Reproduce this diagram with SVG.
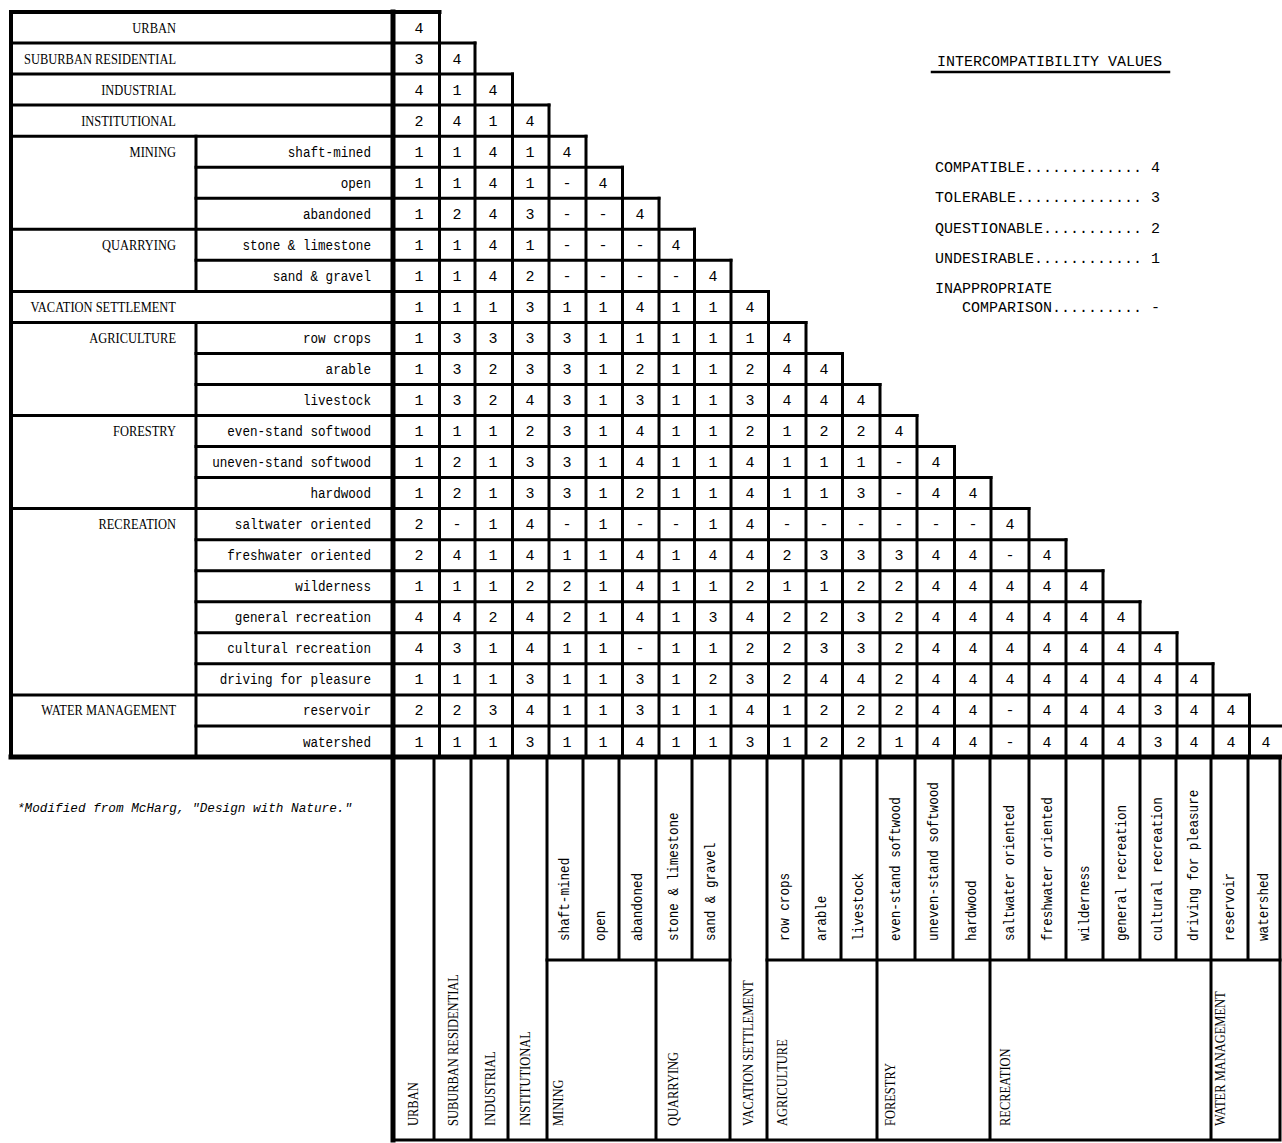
<svg xmlns="http://www.w3.org/2000/svg" width="1282" height="1143" viewBox="0 0 1282 1143">
<style>
.ln{stroke:#000;stroke-width:3;fill:none;stroke-linecap:square}
.tk{stroke:#000;stroke-width:5;fill:none;stroke-linecap:square}
.v{font-family:"Liberation Mono","Courier New",monospace;font-size:15px;text-anchor:middle;fill:#000}
.g{font-family:"Liberation Serif","Times New Roman",serif;font-size:14.5px;fill:#000}
.s{font-family:"Liberation Mono","Courier New",monospace;font-size:14.5px;fill:#000}
.e{text-anchor:end}
.lg{font-family:"Liberation Mono","Courier New",monospace;font-size:15px;fill:#000}
.fn{font-family:"Liberation Mono","Courier New",monospace;font-size:12.7px;font-style:italic;fill:#000}
</style>
<rect width="1282" height="1143" fill="#fff"/>
<g id="connectors">
<path class="ln" d="M11 43H475M11 74.1H512.5M11 105.1H549M11 136.2H586M196 167.2H622.5M196 198.2H659M11 229.3H694.5M196 260.3H731M11 291.4H768.5M11 322.4H806M196 353.4H842.5M196 384.5H880M11 415.5H917M196 446.6H954.5M196 477.6H991M11 508.6H1029M196 539.7H1066M196 570.7H1103M196 601.8H1140M196 632.8H1177M196 663.8H1213M11 694.9H1249.5M196 725.9H1284"/>
<path class="ln" d="M196 136.2V291.4M196 322.4V757M439.5 12V757M475 43V757M512.5 74.1V757M549 105.1V757M586 136.2V757M622.5 167.2V757M659 198.2V757M694.5 229.3V757M731 260.3V757M768.5 291.4V757M806 322.4V757M842.5 353.4V757M880 384.5V757M917 415.5V757M954.5 446.6V757M991 477.6V757M1029 508.6V757M1066 539.7V757M1103 570.7V757M1140 601.8V757M1177 632.8V757M1213 663.8V757M1249.5 694.9V757"/>
<path class="ln" style="stroke-width:4" d="M11 12H439.5M11 12V757"/>
<path class="tk" d="M393 12V1140M11 757H1284"/>
<path class="ln" d="M434 757V1140M471 757V1140M508 757V1140M547 757V1140M656 757V1140M730 757V1140M767 757V1140M877 757V1140M990 757V1140M1211 757V1140M1280 757V1140M393 1140H1280"/>
<path class="ln" d="M583 757V960M619 757V960M692 757V960M803 757V960M841 757V960M915 757V960M953 757V960M1029 757V960M1066 757V960M1103 757V960M1140 757V960M1176 757V960M1248 757V960M547 960H730M767 960H1280"/>
</g>
<g id="row-labels">
<text class="g e" transform="translate(176 32.5) scale(0.86 1)">URBAN</text>
<text class="g e" transform="translate(176 63.6) scale(0.86 1)">SUBURBAN RESIDENTIAL</text>
<text class="g e" transform="translate(176 94.6) scale(0.86 1)">INDUSTRIAL</text>
<text class="g e" transform="translate(176 125.6) scale(0.86 1)">INSTITUTIONAL</text>
<text class="g e" transform="translate(176 156.7) scale(0.86 1)">MINING</text>
<text class="g e" transform="translate(176 249.8) scale(0.86 1)">QUARRYING</text>
<text class="g e" transform="translate(176 311.9) scale(0.86 1)">VACATION SETTLEMENT</text>
<text class="g e" transform="translate(176 342.9) scale(0.86 1)">AGRICULTURE</text>
<text class="g e" transform="translate(176 436) scale(0.86 1)">FORESTRY</text>
<text class="g e" transform="translate(176 529.2) scale(0.86 1)">RECREATION</text>
<text class="g e" transform="translate(176 715.4) scale(0.86 1)">WATER MANAGEMENT</text>
<text class="s e" transform="translate(371 156.7) scale(0.87 1)">shaft-mined</text>
<text class="s e" transform="translate(371 187.7) scale(0.87 1)">open</text>
<text class="s e" transform="translate(371 218.8) scale(0.87 1)">abandoned</text>
<text class="s e" transform="translate(371 249.8) scale(0.87 1)">stone &amp; limestone</text>
<text class="s e" transform="translate(371 280.8) scale(0.87 1)">sand &amp; gravel</text>
<text class="s e" transform="translate(371 342.9) scale(0.87 1)">row crops</text>
<text class="s e" transform="translate(371 374) scale(0.87 1)">arable</text>
<text class="s e" transform="translate(371 405) scale(0.87 1)">livestock</text>
<text class="s e" transform="translate(371 436) scale(0.87 1)">even-stand softwood</text>
<text class="s e" transform="translate(371 467.1) scale(0.87 1)">uneven-stand softwood</text>
<text class="s e" transform="translate(371 498.1) scale(0.87 1)">hardwood</text>
<text class="s e" transform="translate(371 529.2) scale(0.87 1)">saltwater oriented</text>
<text class="s e" transform="translate(371 560.2) scale(0.87 1)">freshwater oriented</text>
<text class="s e" transform="translate(371 591.2) scale(0.87 1)">wilderness</text>
<text class="s e" transform="translate(371 622.3) scale(0.87 1)">general recreation</text>
<text class="s e" transform="translate(371 653.3) scale(0.87 1)">cultural recreation</text>
<text class="s e" transform="translate(371 684.4) scale(0.87 1)">driving for pleasure</text>
<text class="s e" transform="translate(371 715.4) scale(0.87 1)">reservoir</text>
<text class="s e" transform="translate(371 746.5) scale(0.87 1)">watershed</text>
</g>
<g id="column-labels">
<text class="g" transform="translate(418 1126) rotate(-90) scale(0.86 1)">URBAN</text>
<text class="g" transform="translate(457.5 1126) rotate(-90) scale(0.86 1)">SUBURBAN RESIDENTIAL</text>
<text class="g" transform="translate(494.5 1126) rotate(-90) scale(0.86 1)">INDUSTRIAL</text>
<text class="g" transform="translate(530 1126) rotate(-90) scale(0.86 1)">INSTITUTIONAL</text>
<text class="g" transform="translate(563 1126) rotate(-90) scale(0.86 1)">MINING</text>
<text class="g" transform="translate(678 1126) rotate(-90) scale(0.86 1)">QUARRYING</text>
<text class="g" transform="translate(753 1126) rotate(-90) scale(0.86 1)">VACATION SETTLEMENT</text>
<text class="g" transform="translate(787 1126) rotate(-90) scale(0.86 1)">AGRICULTURE</text>
<text class="g" transform="translate(895 1126) rotate(-90) scale(0.86 1)">FORESTRY</text>
<text class="g" transform="translate(1010 1126) rotate(-90) scale(0.86 1)">RECREATION</text>
<text class="g" transform="translate(1225 1126) rotate(-90) scale(0.86 1)">WATER MANAGEMENT</text>
<text class="s" transform="translate(569 941) rotate(-90) scale(0.87 1)">shaft-mined</text>
<text class="s" transform="translate(605 941) rotate(-90) scale(0.87 1)">open</text>
<text class="s" transform="translate(641.5 941) rotate(-90) scale(0.87 1)">abandoned</text>
<text class="s" transform="translate(678 941) rotate(-90) scale(0.87 1)">stone &amp; limestone</text>
<text class="s" transform="translate(715 941) rotate(-90) scale(0.87 1)">sand &amp; gravel</text>
<text class="s" transform="translate(789 941) rotate(-90) scale(0.87 1)">row crops</text>
<text class="s" transform="translate(826 941) rotate(-90) scale(0.87 1)">arable</text>
<text class="s" transform="translate(863 941) rotate(-90) scale(0.87 1)">livestock</text>
<text class="s" transform="translate(900 941) rotate(-90) scale(0.87 1)">even-stand softwood</text>
<text class="s" transform="translate(938 941) rotate(-90) scale(0.87 1)">uneven-stand softwood</text>
<text class="s" transform="translate(975.5 941) rotate(-90) scale(0.87 1)">hardwood</text>
<text class="s" transform="translate(1013.5 941) rotate(-90) scale(0.87 1)">saltwater oriented</text>
<text class="s" transform="translate(1051.5 941) rotate(-90) scale(0.87 1)">freshwater oriented</text>
<text class="s" transform="translate(1088.5 941) rotate(-90) scale(0.87 1)">wilderness</text>
<text class="s" transform="translate(1125.5 941) rotate(-90) scale(0.87 1)">general recreation</text>
<text class="s" transform="translate(1162 941) rotate(-90) scale(0.87 1)">cultural recreation</text>
<text class="s" transform="translate(1197.5 941) rotate(-90) scale(0.87 1)">driving for pleasure</text>
<text class="s" transform="translate(1233.5 941) rotate(-90) scale(0.87 1)">reservoir</text>
<text class="s" transform="translate(1268 941) rotate(-90) scale(0.87 1)">watershed</text>
</g>
<g id="values">
<g id="r0"><text class="v" x="419" y="32.5">4</text></g>
<g id="r1"><text class="v" x="419" y="63.6">3</text><text class="v" x="457" y="63.6">4</text></g>
<g id="r2"><text class="v" x="419" y="94.6">4</text><text class="v" x="457" y="94.6">1</text><text class="v" x="493" y="94.6">4</text></g>
<g id="r3"><text class="v" x="419" y="125.6">2</text><text class="v" x="457" y="125.6">4</text><text class="v" x="493" y="125.6">1</text><text class="v" x="530" y="125.6">4</text></g>
<g id="r4"><text class="v" x="419" y="156.7">1</text><text class="v" x="457" y="156.7">1</text><text class="v" x="493" y="156.7">4</text><text class="v" x="530" y="156.7">1</text><text class="v" x="567" y="156.7">4</text></g>
<g id="r5"><text class="v" x="419" y="187.7">1</text><text class="v" x="457" y="187.7">1</text><text class="v" x="493" y="187.7">4</text><text class="v" x="530" y="187.7">1</text><text class="v" x="567" y="187.7">-</text><text class="v" x="603" y="187.7">4</text></g>
<g id="r6"><text class="v" x="419" y="218.8">1</text><text class="v" x="457" y="218.8">2</text><text class="v" x="493" y="218.8">4</text><text class="v" x="530" y="218.8">3</text><text class="v" x="567" y="218.8">-</text><text class="v" x="603" y="218.8">-</text><text class="v" x="640" y="218.8">4</text></g>
<g id="r7"><text class="v" x="419" y="249.8">1</text><text class="v" x="457" y="249.8">1</text><text class="v" x="493" y="249.8">4</text><text class="v" x="530" y="249.8">1</text><text class="v" x="567" y="249.8">-</text><text class="v" x="603" y="249.8">-</text><text class="v" x="640" y="249.8">-</text><text class="v" x="676" y="249.8">4</text></g>
<g id="r8"><text class="v" x="419" y="280.8">1</text><text class="v" x="457" y="280.8">1</text><text class="v" x="493" y="280.8">4</text><text class="v" x="530" y="280.8">2</text><text class="v" x="567" y="280.8">-</text><text class="v" x="603" y="280.8">-</text><text class="v" x="640" y="280.8">-</text><text class="v" x="676" y="280.8">-</text><text class="v" x="713" y="280.8">4</text></g>
<g id="r9"><text class="v" x="419" y="311.9">1</text><text class="v" x="457" y="311.9">1</text><text class="v" x="493" y="311.9">1</text><text class="v" x="530" y="311.9">3</text><text class="v" x="567" y="311.9">1</text><text class="v" x="603" y="311.9">1</text><text class="v" x="640" y="311.9">4</text><text class="v" x="676" y="311.9">1</text><text class="v" x="713" y="311.9">1</text><text class="v" x="750" y="311.9">4</text></g>
<g id="r10"><text class="v" x="419" y="342.9">1</text><text class="v" x="457" y="342.9">3</text><text class="v" x="493" y="342.9">3</text><text class="v" x="530" y="342.9">3</text><text class="v" x="567" y="342.9">3</text><text class="v" x="603" y="342.9">1</text><text class="v" x="640" y="342.9">1</text><text class="v" x="676" y="342.9">1</text><text class="v" x="713" y="342.9">1</text><text class="v" x="750" y="342.9">1</text><text class="v" x="787" y="342.9">4</text></g>
<g id="r11"><text class="v" x="419" y="374">1</text><text class="v" x="457" y="374">3</text><text class="v" x="493" y="374">2</text><text class="v" x="530" y="374">3</text><text class="v" x="567" y="374">3</text><text class="v" x="603" y="374">1</text><text class="v" x="640" y="374">2</text><text class="v" x="676" y="374">1</text><text class="v" x="713" y="374">1</text><text class="v" x="750" y="374">2</text><text class="v" x="787" y="374">4</text><text class="v" x="824" y="374">4</text></g>
<g id="r12"><text class="v" x="419" y="405">1</text><text class="v" x="457" y="405">3</text><text class="v" x="493" y="405">2</text><text class="v" x="530" y="405">4</text><text class="v" x="567" y="405">3</text><text class="v" x="603" y="405">1</text><text class="v" x="640" y="405">3</text><text class="v" x="676" y="405">1</text><text class="v" x="713" y="405">1</text><text class="v" x="750" y="405">3</text><text class="v" x="787" y="405">4</text><text class="v" x="824" y="405">4</text><text class="v" x="861" y="405">4</text></g>
<g id="r13"><text class="v" x="419" y="436">1</text><text class="v" x="457" y="436">1</text><text class="v" x="493" y="436">1</text><text class="v" x="530" y="436">2</text><text class="v" x="567" y="436">3</text><text class="v" x="603" y="436">1</text><text class="v" x="640" y="436">4</text><text class="v" x="676" y="436">1</text><text class="v" x="713" y="436">1</text><text class="v" x="750" y="436">2</text><text class="v" x="787" y="436">1</text><text class="v" x="824" y="436">2</text><text class="v" x="861" y="436">2</text><text class="v" x="899" y="436">4</text></g>
<g id="r14"><text class="v" x="419" y="467.1">1</text><text class="v" x="457" y="467.1">2</text><text class="v" x="493" y="467.1">1</text><text class="v" x="530" y="467.1">3</text><text class="v" x="567" y="467.1">3</text><text class="v" x="603" y="467.1">1</text><text class="v" x="640" y="467.1">4</text><text class="v" x="676" y="467.1">1</text><text class="v" x="713" y="467.1">1</text><text class="v" x="750" y="467.1">4</text><text class="v" x="787" y="467.1">1</text><text class="v" x="824" y="467.1">1</text><text class="v" x="861" y="467.1">1</text><text class="v" x="899" y="467.1">-</text><text class="v" x="936" y="467.1">4</text></g>
<g id="r15"><text class="v" x="419" y="498.1">1</text><text class="v" x="457" y="498.1">2</text><text class="v" x="493" y="498.1">1</text><text class="v" x="530" y="498.1">3</text><text class="v" x="567" y="498.1">3</text><text class="v" x="603" y="498.1">1</text><text class="v" x="640" y="498.1">2</text><text class="v" x="676" y="498.1">1</text><text class="v" x="713" y="498.1">1</text><text class="v" x="750" y="498.1">4</text><text class="v" x="787" y="498.1">1</text><text class="v" x="824" y="498.1">1</text><text class="v" x="861" y="498.1">3</text><text class="v" x="899" y="498.1">-</text><text class="v" x="936" y="498.1">4</text><text class="v" x="973" y="498.1">4</text></g>
<g id="r16"><text class="v" x="419" y="529.2">2</text><text class="v" x="457" y="529.2">-</text><text class="v" x="493" y="529.2">1</text><text class="v" x="530" y="529.2">4</text><text class="v" x="567" y="529.2">-</text><text class="v" x="603" y="529.2">1</text><text class="v" x="640" y="529.2">-</text><text class="v" x="676" y="529.2">-</text><text class="v" x="713" y="529.2">1</text><text class="v" x="750" y="529.2">4</text><text class="v" x="787" y="529.2">-</text><text class="v" x="824" y="529.2">-</text><text class="v" x="861" y="529.2">-</text><text class="v" x="899" y="529.2">-</text><text class="v" x="936" y="529.2">-</text><text class="v" x="973" y="529.2">-</text><text class="v" x="1010" y="529.2">4</text></g>
<g id="r17"><text class="v" x="419" y="560.2">2</text><text class="v" x="457" y="560.2">4</text><text class="v" x="493" y="560.2">1</text><text class="v" x="530" y="560.2">4</text><text class="v" x="567" y="560.2">1</text><text class="v" x="603" y="560.2">1</text><text class="v" x="640" y="560.2">4</text><text class="v" x="676" y="560.2">1</text><text class="v" x="713" y="560.2">4</text><text class="v" x="750" y="560.2">4</text><text class="v" x="787" y="560.2">2</text><text class="v" x="824" y="560.2">3</text><text class="v" x="861" y="560.2">3</text><text class="v" x="899" y="560.2">3</text><text class="v" x="936" y="560.2">4</text><text class="v" x="973" y="560.2">4</text><text class="v" x="1010" y="560.2">-</text><text class="v" x="1047" y="560.2">4</text></g>
<g id="r18"><text class="v" x="419" y="591.2">1</text><text class="v" x="457" y="591.2">1</text><text class="v" x="493" y="591.2">1</text><text class="v" x="530" y="591.2">2</text><text class="v" x="567" y="591.2">2</text><text class="v" x="603" y="591.2">1</text><text class="v" x="640" y="591.2">4</text><text class="v" x="676" y="591.2">1</text><text class="v" x="713" y="591.2">1</text><text class="v" x="750" y="591.2">2</text><text class="v" x="787" y="591.2">1</text><text class="v" x="824" y="591.2">1</text><text class="v" x="861" y="591.2">2</text><text class="v" x="899" y="591.2">2</text><text class="v" x="936" y="591.2">4</text><text class="v" x="973" y="591.2">4</text><text class="v" x="1010" y="591.2">4</text><text class="v" x="1047" y="591.2">4</text><text class="v" x="1084" y="591.2">4</text></g>
<g id="r19"><text class="v" x="419" y="622.3">4</text><text class="v" x="457" y="622.3">4</text><text class="v" x="493" y="622.3">2</text><text class="v" x="530" y="622.3">4</text><text class="v" x="567" y="622.3">2</text><text class="v" x="603" y="622.3">1</text><text class="v" x="640" y="622.3">4</text><text class="v" x="676" y="622.3">1</text><text class="v" x="713" y="622.3">3</text><text class="v" x="750" y="622.3">4</text><text class="v" x="787" y="622.3">2</text><text class="v" x="824" y="622.3">2</text><text class="v" x="861" y="622.3">3</text><text class="v" x="899" y="622.3">2</text><text class="v" x="936" y="622.3">4</text><text class="v" x="973" y="622.3">4</text><text class="v" x="1010" y="622.3">4</text><text class="v" x="1047" y="622.3">4</text><text class="v" x="1084" y="622.3">4</text><text class="v" x="1121" y="622.3">4</text></g>
<g id="r20"><text class="v" x="419" y="653.3">4</text><text class="v" x="457" y="653.3">3</text><text class="v" x="493" y="653.3">1</text><text class="v" x="530" y="653.3">4</text><text class="v" x="567" y="653.3">1</text><text class="v" x="603" y="653.3">1</text><text class="v" x="640" y="653.3">-</text><text class="v" x="676" y="653.3">1</text><text class="v" x="713" y="653.3">1</text><text class="v" x="750" y="653.3">2</text><text class="v" x="787" y="653.3">2</text><text class="v" x="824" y="653.3">3</text><text class="v" x="861" y="653.3">3</text><text class="v" x="899" y="653.3">2</text><text class="v" x="936" y="653.3">4</text><text class="v" x="973" y="653.3">4</text><text class="v" x="1010" y="653.3">4</text><text class="v" x="1047" y="653.3">4</text><text class="v" x="1084" y="653.3">4</text><text class="v" x="1121" y="653.3">4</text><text class="v" x="1158" y="653.3">4</text></g>
<g id="r21"><text class="v" x="419" y="684.4">1</text><text class="v" x="457" y="684.4">1</text><text class="v" x="493" y="684.4">1</text><text class="v" x="530" y="684.4">3</text><text class="v" x="567" y="684.4">1</text><text class="v" x="603" y="684.4">1</text><text class="v" x="640" y="684.4">3</text><text class="v" x="676" y="684.4">1</text><text class="v" x="713" y="684.4">2</text><text class="v" x="750" y="684.4">3</text><text class="v" x="787" y="684.4">2</text><text class="v" x="824" y="684.4">4</text><text class="v" x="861" y="684.4">4</text><text class="v" x="899" y="684.4">2</text><text class="v" x="936" y="684.4">4</text><text class="v" x="973" y="684.4">4</text><text class="v" x="1010" y="684.4">4</text><text class="v" x="1047" y="684.4">4</text><text class="v" x="1084" y="684.4">4</text><text class="v" x="1121" y="684.4">4</text><text class="v" x="1158" y="684.4">4</text><text class="v" x="1194" y="684.4">4</text></g>
<g id="r22"><text class="v" x="419" y="715.4">2</text><text class="v" x="457" y="715.4">2</text><text class="v" x="493" y="715.4">3</text><text class="v" x="530" y="715.4">4</text><text class="v" x="567" y="715.4">1</text><text class="v" x="603" y="715.4">1</text><text class="v" x="640" y="715.4">3</text><text class="v" x="676" y="715.4">1</text><text class="v" x="713" y="715.4">1</text><text class="v" x="750" y="715.4">4</text><text class="v" x="787" y="715.4">1</text><text class="v" x="824" y="715.4">2</text><text class="v" x="861" y="715.4">2</text><text class="v" x="899" y="715.4">2</text><text class="v" x="936" y="715.4">4</text><text class="v" x="973" y="715.4">4</text><text class="v" x="1010" y="715.4">-</text><text class="v" x="1047" y="715.4">4</text><text class="v" x="1084" y="715.4">4</text><text class="v" x="1121" y="715.4">4</text><text class="v" x="1158" y="715.4">3</text><text class="v" x="1194" y="715.4">4</text><text class="v" x="1231" y="715.4">4</text></g>
<g id="r23"><text class="v" x="419" y="746.5">1</text><text class="v" x="457" y="746.5">1</text><text class="v" x="493" y="746.5">1</text><text class="v" x="530" y="746.5">3</text><text class="v" x="567" y="746.5">1</text><text class="v" x="603" y="746.5">1</text><text class="v" x="640" y="746.5">4</text><text class="v" x="676" y="746.5">1</text><text class="v" x="713" y="746.5">1</text><text class="v" x="750" y="746.5">3</text><text class="v" x="787" y="746.5">1</text><text class="v" x="824" y="746.5">2</text><text class="v" x="861" y="746.5">2</text><text class="v" x="899" y="746.5">1</text><text class="v" x="936" y="746.5">4</text><text class="v" x="973" y="746.5">4</text><text class="v" x="1010" y="746.5">-</text><text class="v" x="1047" y="746.5">4</text><text class="v" x="1084" y="746.5">4</text><text class="v" x="1121" y="746.5">4</text><text class="v" x="1158" y="746.5">3</text><text class="v" x="1194" y="746.5">4</text><text class="v" x="1231" y="746.5">4</text><text class="v" x="1266" y="746.5">4</text></g>
</g>
<g id="legend">
<text class="lg" x="937" y="66">INTERCOMPATIBILITY VALUES</text>
<path class="ln" style="stroke-width:2.5" d="M932 72H1169"/>
<text class="lg" x="935" y="172">COMPATIBLE............. 4</text>
<text class="lg" x="935" y="202">TOLERABLE.............. 3</text>
<text class="lg" x="935" y="233">QUESTIONABLE........... 2</text>
<text class="lg" x="935" y="263">UNDESIRABLE............ 1</text>
<text class="lg" x="935" y="293">INAPPROPRIATE</text>
<text class="lg" x="962" y="312">COMPARISON.......... -</text>
</g>
<g id="footnote">
<text class="fn" x="17" y="812">*Modified from McHarg, "Design with Nature."</text>
</g>
</svg>
